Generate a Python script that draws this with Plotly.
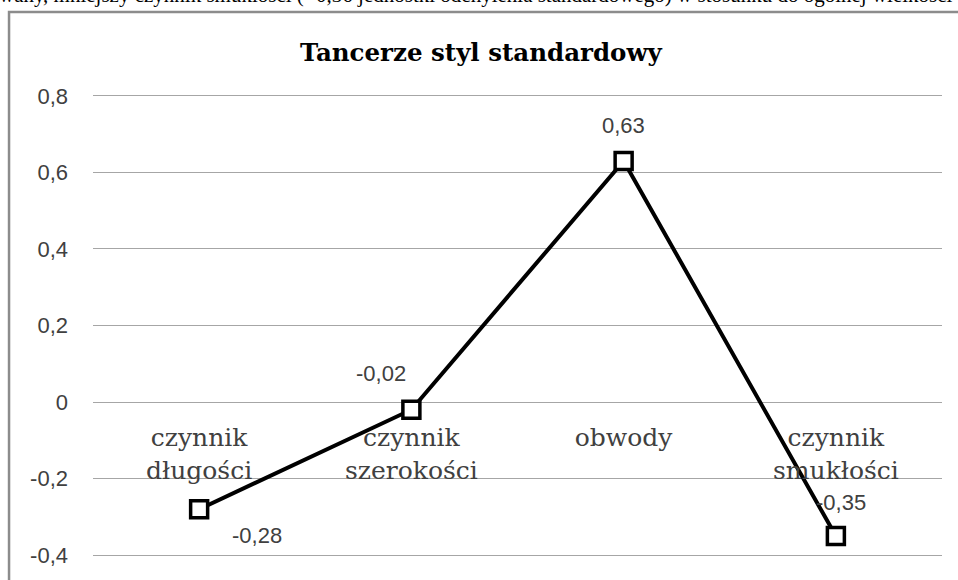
import plotly.graph_objects as go

categories = ["czynnik<br>długości", "czynnik<br>szerokości", "obwody", "czynnik<br>smukłości"]
values = [-0.28, -0.02, 0.63, -0.35]
value_labels = ["-0,28", "-0,02", "0,63", "-0,35"]
label_shift_x = [58, -30, 0, 5]
label_shift_y = [-26, 36, 35, 34]
y_ticks = [-0.4, -0.2, 0, 0.2, 0.4, 0.6, 0.8]
y_tick_text = ["-0,4", "-0,2", "0", "0,2", "0,4", "0,6", "0,8"]

title_text = "Tancerze styl standardowy"
top_text = "wany, mniejszy czynnik smukłości (- 0,36 jednostki odchylenia standardowego) w stosunku do ogólnej wielkości"

fig = go.Figure()
fig.add_trace(go.Scatter(
    x=categories, y=values, mode="lines+markers",
    line=dict(color="black", width=4),
    marker=dict(symbol="square", size=17, color="white", line=dict(color="black", width=3.5)),
    hoverinfo="skip", showlegend=False,
))

for c, v, t, dx, dy in zip(categories, values, value_labels, label_shift_x, label_shift_y):
    fig.add_annotation(x=c, y=v, text=t, showarrow=False, xshift=dx, yshift=dy,
                       font=dict(family="Liberation Sans", size=22, color="#404040"))

fig.add_annotation(xref="paper", yref="paper", x=0.457, y=1.0, yshift=56, text=title_text, showarrow=False,
                   font=dict(family="DejaVu Serif", size=24.5, color="black", weight="bold"))

fig.add_annotation(xref="paper", yref="paper", x=-0.113, y=1.0, yshift=97, xanchor="left", yanchor="middle",
                   text=top_text, showarrow=False,
                   font=dict(family="Liberation Serif", size=21, color="black"))

fig.add_shape(type="rect", xref="paper", yref="paper", x0=-0.0989, x1=1.2, y0=-0.3, y1=1.1713,
              line=dict(color="#8c8c8c", width=2.5), fillcolor="rgba(0,0,0,0)", layer="below")

fig.update_layout(
    width=958, height=580,
    margin=dict(l=93, r=16, t=92, b=18),
    paper_bgcolor="white", plot_bgcolor="white",
    xaxis=dict(type="category", range=[-0.5, 3.5], anchor="free", position=0.41 / 1.22,
               showgrid=False, showline=False, ticks="", zeroline=False, ticklabelstandoff=18,
               tickfont=dict(family="DejaVu Serif", size=25, color="#404040")),
    yaxis=dict(range=[-0.41, 0.81], tickvals=y_ticks, ticktext=y_tick_text,
               showgrid=True, gridcolor="#a6a6a6", gridwidth=1, zeroline=False, showline=False,
               ticks="", ticklabelstandoff=24,
               tickfont=dict(family="Liberation Sans", size=22, color="#404040")),
)

fig.write_html("out.html")
